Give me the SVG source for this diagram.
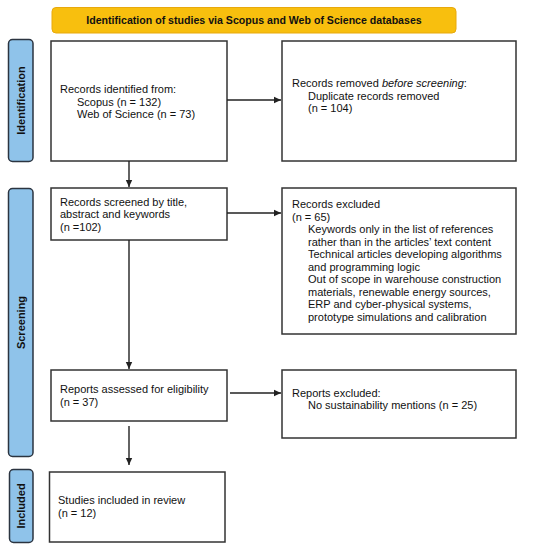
<svg xmlns="http://www.w3.org/2000/svg" width="542" height="550" viewBox="0 0 542 550">
<style>
.bg{fill:#fff}
.box{fill:#fff;stroke:#333;stroke-width:1.5}
.tab{fill:#8fc3ea;stroke:#2b3440;stroke-width:1.5}
.t{font-family:"Liberation Sans",Arial,sans-serif;font-size:11px;fill:#111}
.b{font-family:"Liberation Sans",Arial,sans-serif;font-size:11px;font-weight:bold;fill:#111}
.c{stroke:#222;stroke-width:1.4;fill:none}
</style>
<defs>
<marker id="ah" markerWidth="8" markerHeight="8" refX="7" refY="4" orient="auto" markerUnits="userSpaceOnUse">
<path d="M0,0.8 L7,4 L0,7.2 Z" fill="#222"/>
</marker>
</defs>
<rect class="bg" x="0" y="0" width="542" height="550"/>
<g id="title">
<rect x="52" y="7.5" width="404" height="25.5" rx="4" fill="#f8bf0e" stroke="#e8a90c" stroke-width="1"/>
<text class="b" x="254" y="24" text-anchor="middle" style="font-size:10.6px">Identification of studies via Scopus and Web of Science databases</text>
</g>
<g id="tab-identification">
<rect class="tab" x="8.5" y="39.5" width="24.5" height="122" rx="4"/>
<text class="b" transform="translate(24.5,100.5) rotate(-90)" text-anchor="middle">Identification</text>
</g>
<g id="tab-screening">
<rect class="tab" x="8.5" y="188.5" width="24.5" height="268" rx="4"/>
<text class="b" transform="translate(24.5,322.5) rotate(-90)" text-anchor="middle">Screening</text>
</g>
<g id="tab-included">
<rect class="tab" x="9.5" y="469.5" width="23.5" height="73" rx="4"/>
<text class="b" transform="translate(25,506) rotate(-90)" text-anchor="middle">Included</text>
</g>
<g id="records-identified">
<rect class="box" x="51" y="41" width="176" height="120"/>
<text class="t" x="60" y="93">Records identified from:</text>
<text class="t" x="77" y="105.5">Scopus (n = 132)</text>
<text class="t" x="77" y="118">Web of Science (n = 73)</text>
</g>
<g id="records-removed">
<rect class="box" x="282" y="41" width="234" height="120"/>
<text class="t" x="292" y="87">Records removed <tspan font-style="italic">before screening</tspan>:</text>
<text class="t" x="308" y="99.5">Duplicate records removed</text>
<text class="t" x="308" y="112">(n = 104)</text>
</g>
<g id="records-screened">
<rect class="box" x="51" y="188" width="176" height="52"/>
<text class="t" x="60" y="205.5">Records screened by title,</text>
<text class="t" x="60" y="218">abstract and keywords</text>
<text class="t" x="60" y="230.5">(n =102)</text>
</g>
<g id="records-excluded">
<rect class="box" x="282" y="188" width="234" height="146"/>
<text class="t" x="292" y="208">Records excluded</text>
<text class="t" x="292" y="220.5">(n = 65)</text>
<text class="t" x="308" y="233">Keywords only in the list of references</text>
<text class="t" x="308" y="245.5">rather than in the articles’ text content</text>
<text class="t" x="308" y="258">Technical articles developing algorithms</text>
<text class="t" x="308" y="270.5">and programming logic</text>
<text class="t" x="308" y="283">Out of scope in warehouse construction</text>
<text class="t" x="308" y="295.5">materials, renewable energy sources,</text>
<text class="t" x="308" y="308">ERP and cyber-physical systems,</text>
<text class="t" x="308" y="320.5">prototype simulations and calibration</text>
</g>
<g id="reports-assessed">
<rect class="box" x="51" y="370" width="176" height="51"/>
<text class="t" x="60" y="393">Reports assessed for eligibility</text>
<text class="t" x="60" y="405.5">(n = 37)</text>
</g>
<g id="reports-excluded">
<rect class="box" x="282" y="370" width="234" height="68"/>
<text class="t" x="292" y="396.5">Reports excluded:</text>
<text class="t" x="308" y="409">No sustainability mentions (n = 25)</text>
</g>
<g id="studies-included">
<rect class="box" x="49.5" y="472" width="175.5" height="70"/>
<text class="t" x="58" y="504">Studies included in review</text>
<text class="t" x="58" y="517">(n = 12)</text>
</g>
<g id="connectors">
<line class="c" x1="227" y1="100" x2="281" y2="100" marker-end="url(#ah)"/>
<line class="c" x1="129" y1="161" x2="129" y2="187" marker-end="url(#ah)"/>
<line class="c" x1="227" y1="213" x2="281" y2="213" marker-end="url(#ah)"/>
<line class="c" x1="129" y1="240" x2="129" y2="369" marker-end="url(#ah)"/>
<line class="c" x1="230" y1="393" x2="281" y2="393" marker-end="url(#ah)"/>
<line class="c" x1="129" y1="426" x2="129" y2="465" marker-end="url(#ah)"/>
</g>
</svg>
